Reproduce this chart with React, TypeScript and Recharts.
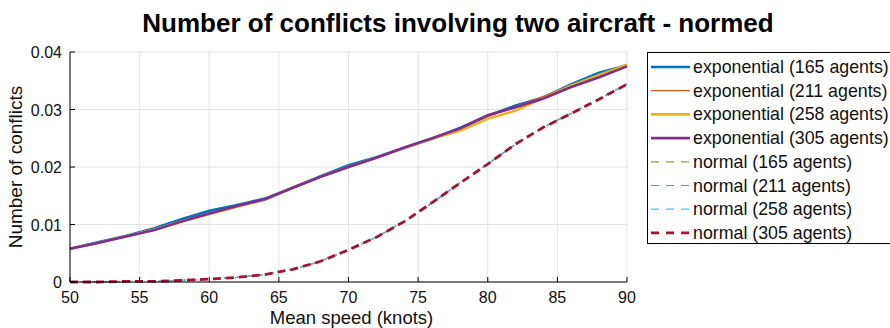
import React from 'react';
import { LineChart, Line, XAxis, YAxis, CartesianGrid, Label } from 'recharts';

const FONT = '"Liberation Sans", Arial, Helvetica, sans-serif';

// mean speed in knots
const speeds = [50, 52, 54, 56, 58, 60, 62, 64, 66, 68, 70, 72, 74, 76, 78, 80, 82, 84, 86, 88, 90];

const exp165 = [0.0058, 0.0069, 0.008, 0.0093, 0.0109, 0.0124, 0.0134, 0.0145, 0.0164, 0.0184, 0.0203, 0.0217, 0.0233, 0.0249, 0.0268, 0.0289, 0.0307, 0.0321, 0.0344, 0.0364, 0.0377];
const exp211 = [0.0058, 0.0068, 0.008, 0.0092, 0.0107, 0.012, 0.0132, 0.0144, 0.0165, 0.0184, 0.0201, 0.0216, 0.0234, 0.025, 0.0267, 0.0288, 0.0305, 0.0323, 0.0342, 0.036, 0.0377];
const exp258 = [0.0058, 0.0068, 0.0079, 0.0091, 0.0105, 0.0118, 0.0131, 0.0143, 0.0164, 0.0183, 0.02, 0.0216, 0.0233, 0.0249, 0.0263, 0.0284, 0.0298, 0.032, 0.0342, 0.036, 0.0378];
const exp305 = [0.0058, 0.0068, 0.0079, 0.009, 0.0105, 0.0119, 0.0132, 0.0144, 0.0164, 0.0183, 0.02, 0.0216, 0.0234, 0.025, 0.0267, 0.029, 0.0304, 0.0319, 0.0339, 0.0356, 0.0375];

const norm165 = [0, 0, 0.0001, 0.0001, 0.0003, 0.0005, 0.0008, 0.0013, 0.0022, 0.0036, 0.0056, 0.0078, 0.0105, 0.0138, 0.0172, 0.0205, 0.024, 0.0269, 0.0293, 0.0318, 0.0344];
const norm211 = [0, 0, 0.0001, 0.0001, 0.0003, 0.0005, 0.0008, 0.0013, 0.0022, 0.0036, 0.0055, 0.0078, 0.0105, 0.0137, 0.0172, 0.0205, 0.0239, 0.0269, 0.0294, 0.0318, 0.0345];
const norm258 = [0, 0, 0.0001, 0.0001, 0.0003, 0.0005, 0.0008, 0.0013, 0.0022, 0.0036, 0.0056, 0.0078, 0.0106, 0.0138, 0.0172, 0.0206, 0.024, 0.027, 0.0293, 0.0319, 0.0344];
const norm305 = [0, 0, 0.0001, 0.0001, 0.0003, 0.0005, 0.0008, 0.0013, 0.0022, 0.0036, 0.0056, 0.0078, 0.0105, 0.0138, 0.0172, 0.0205, 0.024, 0.0269, 0.0293, 0.0318, 0.0344];

const xTicks = [50, 55, 60, 65, 70, 75, 80, 85, 90];
const yTicks = [0, 0.01, 0.02, 0.03, 0.04];

const series = [
  { key: 'exp165', name: 'exponential (165 agents)', values: exp165, color: '#0072BD', width: 2.6, dash: undefined },
  { key: 'exp211', name: 'exponential (211 agents)', values: exp211, color: '#D95319', width: 1.2, dash: undefined },
  { key: 'exp258', name: 'exponential (258 agents)', values: exp258, color: '#EDB120', width: 2.6, dash: undefined },
  { key: 'exp305', name: 'exponential (305 agents)', values: exp305, color: '#7E2F8E', width: 2.6, dash: undefined },
  { key: 'norm165', name: 'normal (165 agents)', values: norm165, color: '#77AC30', width: 1.2, dash: '6 5' },
  { key: 'norm211', name: 'normal (211 agents)', values: norm211, color: '#C8649F', width: 1.2, dash: '6 5' },
  { key: 'norm258', name: 'normal (258 agents)', values: norm258, color: '#4DBEEE', width: 1.2, dash: '6 5' },
  { key: 'norm305', name: 'normal (305 agents)', values: norm305, color: '#A2142F', width: 2.8, dash: '8 5' },
];

const data = speeds.map((speed, i) => {
  const row: Record<string, number> = { speed };
  series.forEach((s) => {
    row[s.key] = s.values[i];
  });
  return row;
});

// MATLAB-style ticks point into the plot area
const XTick = (props: any) => {
  const { x, y, payload } = props;
  return (
    <g>
      <line x1={x} y1={y} x2={x} y2={y - 5} stroke="#000" strokeWidth={1} />
      <text x={x} y={y + 21} textAnchor="middle" fontSize={16} fontFamily={FONT} fill="#111">
        {payload.value}
      </text>
    </g>
  );
};

const YTick = (props: any) => {
  const { x, y, payload } = props;
  return (
    <g>
      <line x1={x} y1={y} x2={x + 5} y2={y} stroke="#000" strokeWidth={1} />
      <text x={x - 8} y={y + 6} textAnchor="end" fontSize={16} fontFamily={FONT} fill="#111">
        {payload.value === 0 ? '0' : payload.value.toFixed(2)}
      </text>
    </g>
  );
};

const LEGEND_ROW = 23.7;

export default function App() {
  return (
    <div style={{ position: 'absolute', left: 0, top: 0, width: 890, height: 328, background: '#fff', fontFamily: FONT }}>
      <LineChart width={890} height={328} data={data} margin={{ top: 52, right: 263, bottom: 0, left: 0 }}>
        <CartesianGrid stroke="#e3e3e3" strokeWidth={1} />
        <XAxis
          dataKey="speed"
          type="number"
          domain={[50, 90]}
          ticks={xTicks}
          height={46}
          tickSize={0}
          tickMargin={0}
          tickLine={false}
          axisLine={{ stroke: '#000', strokeWidth: 1 }}
          tick={<XTick />}
        >
          <Label
            content={({ viewBox }: any) => (
              <text
                x={viewBox.x + viewBox.width / 2 + 3}
                y={324}
                textAnchor="middle"
                fontSize={18.5}
                fontFamily={FONT}
                fill="#111"
              >
                Mean speed (knots)
              </text>
            )}
          />
        </XAxis>
        <YAxis
          type="number"
          domain={[0, 0.04]}
          ticks={yTicks}
          width={70}
          tickSize={0}
          tickMargin={0}
          tickLine={false}
          axisLine={{ stroke: '#000', strokeWidth: 1 }}
          tick={<YTick />}
        >
          <Label
            content={({ viewBox }: any) => {
              const cy = viewBox.y + viewBox.height / 2;
              return (
                <text
                  x={22}
                  y={cy}
                  transform={`rotate(-90, 22, ${cy})`}
                  textAnchor="middle"
                  fontSize={19}
                  fontFamily={FONT}
                  fill="#111"
                >
                  Number of conflicts
                </text>
              );
            }}
          />
        </YAxis>
        {series.map((s) => (
          <Line
            key={s.key}
            dataKey={s.key}
            name={s.name}
            type="linear"
            stroke={s.color}
            strokeWidth={s.width}
            strokeDasharray={s.dash}
            dot={false}
            activeDot={false}
            isAnimationActive={false}
          />
        ))}
      </LineChart>
      <svg
        width={890}
        height={328}
        style={{ position: 'absolute', left: 0, top: 0, pointerEvents: 'none' }}
      >
        <text x={458} y={32} textAnchor="middle" fontSize={26} fontWeight="bold" fontFamily={FONT} fill="#000">
          Number of conflicts involving two aircraft - normed
        </text>
        <rect x={647.5} y={52.5} width={250} height={191} fill="#fff" stroke="#000" strokeWidth={1} />
        {series.map((s, i) => {
          const cy = 67 + i * LEGEND_ROW;
          return (
            <g key={s.key}>
              <line
                x1={651}
                y1={cy}
                x2={690}
                y2={cy}
                stroke={s.color}
                strokeWidth={s.width}
                strokeDasharray={s.dash ? '8 7' : undefined}
              />
              <text x={693} y={cy + 6} fontSize={17.8} fontFamily={FONT} fill="#111">
                {s.name}
              </text>
            </g>
          );
        })}
      </svg>
    </div>
  );
}
